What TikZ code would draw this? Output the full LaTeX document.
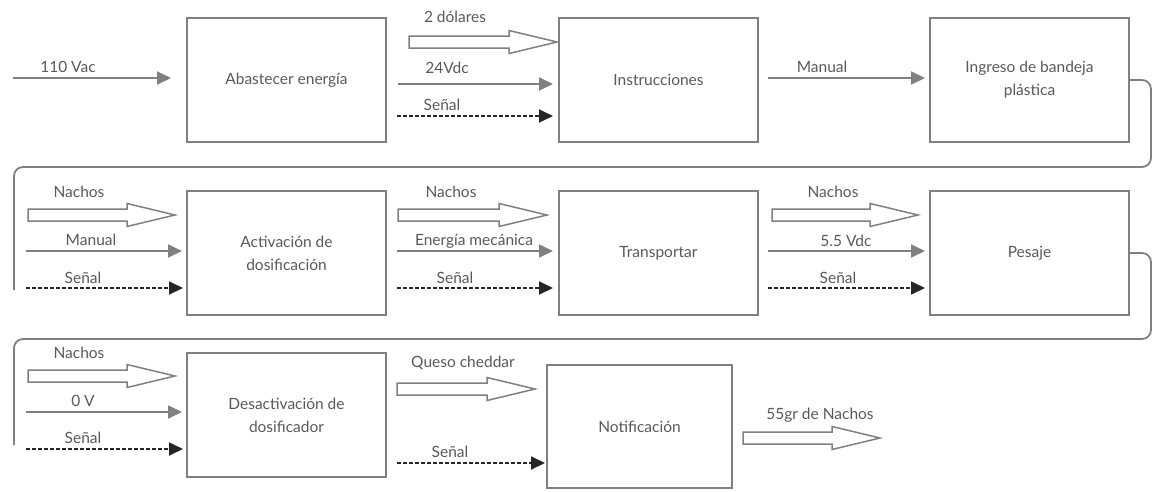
\documentclass[tikz,border=0pt]{standalone}
\usepackage{fontspec}
\setmainfont{Lato}
\usetikzlibrary{arrows.meta,calc}
\definecolor{txt}{HTML}{595959}
\definecolor{ln}{HTML}{808080}
\definecolor{dk}{HTML}{262626}
\newcommand\fs{\fontsize{15.5}{23}\selectfont}
\tikzset{
 box/.style={draw=ln,line width=1.5pt,minimum width=199pt,minimum height=124pt,inner sep=0pt,align=center,text=txt,font=\fs},
 lbl/.style={text=txt,font=\fs,inner sep=0pt},
 flow/.style={draw=ln,line width=1.8pt,-{Triangle[length=14pt,width=13pt]}},
 sig/.style={draw=dk,line width=1.8pt,dash pattern=on 4pt off 2pt,-{Triangle[length=14pt,width=13pt]}},
 blk/.style={draw=ln,line width=1.5pt,fill=white,line join=miter},
 conn/.style={draw=ln,line width=1.8pt,rounded corners=9pt},
}
\newcommand\blockarrow[2]{\draw[blk] ($(#1)+(0,6)$) -- ($(#2)+(-48,6)$) -- ($(#2)+(-48,11.5)$) -- (#2) -- ($(#2)+(-48,-11.5)$) -- ($(#2)+(-48,-6)$) -- ($(#1)+(0,-6)$) -- cycle;}
\begin{document}
\begin{tikzpicture}[x=1pt,y=-1pt]
\useasboundingbox (0,0) rectangle (1154,491);
% boxes
\node[box] (A1) at (286.5,80) {Abastecer energía};
\node[box] (A2) at (658.5,80) {Instrucciones};
\node[box] (A3) at (1029.5,80) {Ingreso de bandeja\\plástica};
\node[box] (B1) at (286.5,253) {Activación de\\dosificación};
\node[box] (B2) at (658.5,253) {Transportar};
\node[box] (B3) at (1029.5,253) {Pesaje};
\node[box] (C1) at (286.5,415) {Desactivación de\\dosificador};
\node[box,minimum width=185pt,minimum height=123pt] (C2) at (639.5,426.5) {Notificación};
% coordinates
\coordinate (s1) at (13,78);   \coordinate (e1) at (171,78);
\coordinate (s2) at (409,42);  \coordinate (e2) at (557,42);
\coordinate (s3) at (398,84);  \coordinate (e3) at (553,84);
\coordinate (s4) at (397,116); \coordinate (e4) at (553,116);
\coordinate (s5) at (768,78);  \coordinate (e5) at (925,78);
\coordinate (s6) at (28,215);  \coordinate (e6) at (175,215);
\coordinate (s7) at (26,251);  \coordinate (e7) at (182,251);
\coordinate (s8) at (26,288);  \coordinate (e8) at (183,288);
\coordinate (s9) at (398,215); \coordinate (e9) at (547,215);
\coordinate (s10) at (397,251); \coordinate (e10) at (553,251);
\coordinate (s11) at (397,288); \coordinate (e11) at (553,288);
\coordinate (s12) at (772,215); \coordinate (e12) at (918,215);
\coordinate (s13) at (768,251); \coordinate (e13) at (925,251);
\coordinate (s14) at (768,288); \coordinate (e14) at (925,288);
\coordinate (s15) at (28,376);  \coordinate (e15) at (175,376);
\coordinate (s16) at (26,412);  \coordinate (e16) at (182,412);
\coordinate (s17) at (26,449);  \coordinate (e17) at (183,449);
\coordinate (s18) at (397,389); \coordinate (e18) at (535,389);
\coordinate (s19) at (397,463); \coordinate (e19) at (545,463);
\coordinate (s20) at (743,438); \coordinate (e20) at (880,438);
% row 1
\draw[flow] (s1) -- (e1);
\blockarrow{s2}{e2}
\draw[flow] (s3) -- (e3);
\draw[sig] (s4) -- (e4);
\draw[flow] (s5) -- (e5);
% row 2
\blockarrow{s6}{e6}
\draw[flow] (s7) -- (e7);
\draw[sig] (s8) -- (e8);
\blockarrow{s9}{e9}
\draw[flow] (s10) -- (e10);
\draw[sig] (s11) -- (e11);
\blockarrow{s12}{e12}
\draw[flow] (s13) -- (e13);
\draw[sig] (s14) -- (e14);
% row 3
\blockarrow{s15}{e15}
\draw[flow] (s16) -- (e16);
\draw[sig] (s17) -- (e17);
\blockarrow{s18}{e18}
\draw[sig] (s19) -- (e19);
\blockarrow{s20}{e20}
% connectors between rows
\coordinate (k1) at (1151,167); \coordinate (k2) at (14,167); \coordinate (k3) at (14,290);
\coordinate (m1) at (1151,339); \coordinate (m2) at (14,339); \coordinate (m3) at (14,445);
\draw[conn] (A3.east) -- (A3.east -| k1) -- (k1) -- (k2) -- (k3);
\draw[conn] (B3.east) -- (B3.east -| m1) -- (m1) -- (m2) -- (m3);
% labels
\node[lbl] (l1) at (68,67) {110 Vac};
\node[lbl] (l2) at (455,17) {2 dólares};
\node[lbl] (l3) at (447,68) {24Vdc};
\node[lbl] (l4) at (442,105) {Señal};
\node[lbl] (l5) at (822,67) {Manual};
\node[lbl] (l6) at (79,192) {Nachos};
\node[lbl] (l7) at (91,240) {Manual};
\node[lbl] (l8) at (83,278) {Señal};
\node[lbl] (l9) at (451,192) {Nachos};
\node[lbl] (l10) at (474,241) {Energía mecánica};
\node[lbl] (l11) at (455,278) {Señal};
\node[lbl] (l12) at (833,192) {Nachos};
\node[lbl] (l13) at (846,241) {5.5 Vdc};
\node[lbl] (l14) at (838,278) {Señal};
\node[lbl] (l15) at (79,353) {Nachos};
\node[lbl] (l16) at (83,401) {0 V};
\node[lbl] (l17) at (83,438) {Señal};
\node[lbl] (l18) at (463,363) {Queso cheddar};
\node[lbl] (l19) at (450,452) {Señal};
\node[lbl] (l20) at (820,415) {55gr de Nachos};
\end{tikzpicture}
\end{document}
